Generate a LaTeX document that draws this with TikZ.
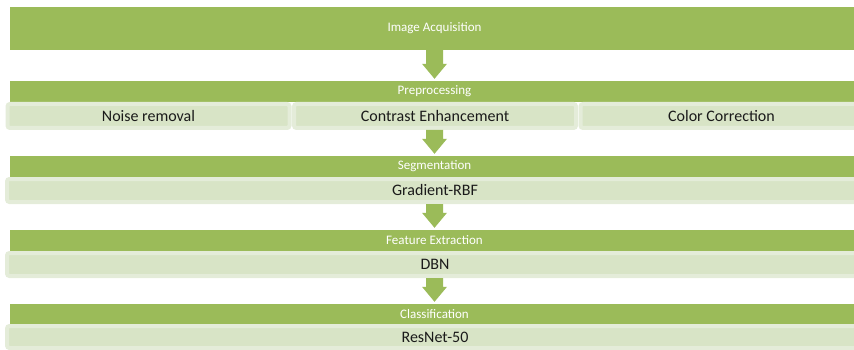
\documentclass[tikz,border=0pt]{standalone}
\usepackage{fontspec}
\setmainfont{Carlito}
\usetikzlibrary{calc}

\definecolor{olive}{HTML}{9BBB59}
\definecolor{cellrim}{HTML}{E4ECD9}
\definecolor{cellfill}{HTML}{D8E4C6}
\definecolor{celltext}{HTML}{1A1A1A}

\tikzset{
  stage/.style={rectangle, fill=olive, inner sep=0pt, text=white,
    font=\fontsize{13}{15}\selectfont, minimum width=849pt},
  cell/.style={rectangle, rounded corners=2.5pt, fill=cellfill,
    draw=cellrim, line width=4pt, inner sep=0pt, text=celltext,
    font=\fontsize{16}{18}\selectfont},
  arrowfill/.style={fill=olive}
}

% block arrow pointing down from the bottom of #1 to the top of #2
\newcommand\flowarrow[2]{%
  \fill[arrowfill] let \p1=(#1.south), \p2=(#2.north) in
    (434.5pt-8.5pt,\y1) -- (434.5pt+8.5pt,\y1) -- (434.5pt+8.5pt,\y2+17pt)
    -- (434.5pt+12.5pt,\y2+17pt) -- (434.5pt,\y2+2pt) -- (434.5pt-12.5pt,\y2+17pt)
    -- (434.5pt-8.5pt,\y2+17pt) -- cycle;}

\begin{document}
\begin{tikzpicture}[x=1pt,y=-1pt]
\useasboundingbox (0,0) rectangle (854,350);
\clip (0,0) rectangle (854,350);

% acquisition stage
\node[stage, minimum height=43pt] (acq) at (434.5,28.5) {Image Acquisition};

% preprocessing
\node[stage, minimum height=21pt] (pre) at (434.5,91.5) {Preprocessing};
\node[cell, minimum width=282pt, minimum height=24pt] (noise) at (148.5,116) {Noise removal};
\node[cell, minimum width=282pt, minimum height=24pt] (contrast) at (435,116) {Contrast Enhancement};
\node[cell, minimum width=282pt, minimum height=24pt] (color) at (721.5,116) {Color Correction};

% segmentation
\node[stage, minimum height=21pt] (seg) at (434.5,166.5) {Segmentation};
\node[cell, minimum width=856pt, minimum height=23pt] (rbf) at (435,190.5) {Gradient-RBF};

% feature extraction
\node[stage, minimum height=21pt] (feat) at (434.5,240.5) {Feature Extraction};
\node[cell, minimum width=856pt, minimum height=23pt] (dbn) at (435,264.5) {DBN};

% classification
\node[stage, minimum height=20pt] (cls) at (434.5,314) {Classification};
\node[cell, minimum width=856pt, minimum height=22pt] (resnet) at (435,337) {ResNet-50};

% flow between stages
\flowarrow{acq}{pre}
\flowarrow{contrast}{seg}
\flowarrow{rbf}{feat}
\flowarrow{dbn}{cls}
\end{tikzpicture}
\end{document}
